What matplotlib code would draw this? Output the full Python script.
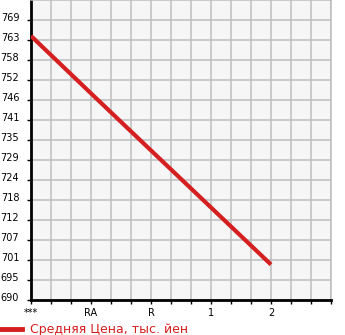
import matplotlib
matplotlib.use("Agg")
import matplotlib.pyplot as plt
import matplotlib.transforms as mtransforms
from matplotlib.ticker import MultipleLocator

categories = ["***", "RA", "R", "1", "2"]
prices = [764.5, 748.3, 732.2, 716.1, 700.0]
ytick_labels = ["690", "695", "701", "707", "712", "718", "724", "729",
                "735", "741", "746", "752", "758", "763", "769"]

step = (769 - 690) / 14.0
ymin = 690
ymax = 690 + 15 * step

fig = plt.figure(figsize=(3.45, 3.35), dpi=100)
ax = fig.add_axes([31/345, 1 - 300/335, 300/345, 300/335])
ax.set_facecolor("#f6f6f6")

xs = list(range(len(categories)))
ax.plot(xs, prices, color="#d42020", linewidth=3.0, solid_capstyle="butt", zorder=3)

ax.set_xlim(0, 5)
ax.set_ylim(ymin, ymax)

yt = [ymin + i * step for i in range(len(ytick_labels))]
ax.set_yticks(yt)
ax.set_yticklabels(ytick_labels, fontsize=7)
ax.set_xticks(xs)
ax.set_xticklabels(categories, fontsize=7)
ax.xaxis.set_minor_locator(MultipleLocator(1/3))

ax.grid(True, which="both", color="#bdbdbd", linewidth=1.1)
ax.set_axisbelow(True)
ax.tick_params(axis="y", which="both", length=3, width=1, pad=5.5)
ax.tick_params(axis="x", which="both", length=3, width=1, pad=3, direction="out")

for lab in ax.get_yticklabels():
    lab.set_transform(lab.get_transform() + mtransforms.ScaledTranslation(0, 3/100, fig.dpi_scale_trans))

for s in ["left", "bottom"]:
    ax.spines[s].set_color("black")
    ax.spines[s].set_linewidth(2)
for s in ["top", "right"]:
    ax.spines[s].set_color("#bdbdbd")
    ax.spines[s].set_linewidth(1.1)

# legend
fig.lines.append(plt.Line2D([0/345, 22/345], [1 - 329/335, 1 - 329/335],
                            color="#d42020", linewidth=3.5, transform=fig.transFigure))
fig.text(30/345, 1 - 329/335, "Средняя Цена, тыс. йен", color="#d42020",
         fontsize=9, va="center", ha="left")

fig.savefig("out.png", dpi=100)
